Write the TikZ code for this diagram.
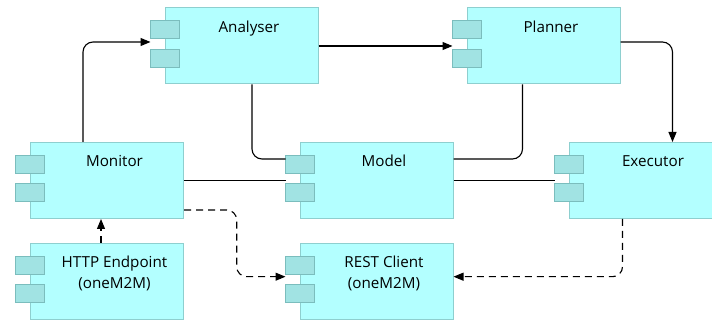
\documentclass[tikz,border=0pt]{standalone}
\usepackage{fontspec}
\setmainfont{Open Sans}
\usetikzlibrary{arrows.meta}
\definecolor{boxfill}{HTML}{B3FFFF}
\definecolor{boxline}{HTML}{8ECFCF}
\definecolor{portfill}{HTML}{A1E3E3}
\definecolor{portline}{HTML}{7BBDBD}
\tikzset{
	compbox/.style={draw=boxline,fill=boxfill,line width=1pt,minimum width=153pt,minimum height=76pt,inner sep=0pt},
	comptext/.style={anchor=base,font=\fontsize{15.2}{21}\selectfont,inner sep=0pt},
	port/.style={draw=portline,fill=portfill,line width=1pt,minimum width=29pt,minimum height=18pt,inner sep=0pt},
	conn/.style={line width=1.1pt,rounded corners=10pt},
	tip/.style={-{Triangle[length=10pt,width=8pt]}},
	dashconn/.style={conn,dash pattern=on 7pt off 5pt}
}
% component: name, position, label
\newcommand{\comp}[3]{%
	\node[compbox] (#1) at #2 {};
	\node[comptext] (#1-text) at ([xshift=7.5pt,yshift=-25pt]#1.north) {\begin{tabular}[t]{@{}c@{}}#3\end{tabular}};
	\node[port] (#1-p1) at ([yshift=-22.5pt]#1.north west) {};
	\node[port] (#1-p2) at ([yshift=-51pt]#1.north west) {};
}
\begin{document}
\begin{tikzpicture}[x=1pt,y=-1pt]
	\useasboundingbox (0,0) rectangle (712,320);
	\clip (0,0) rectangle (712,320);
	\comp{analyser}{(241.5,46)}{Analyser}
	\comp{planner}{(543.5,46)}{Planner}
	\comp{monitor}{(107,180.5)}{Monitor}
	\comp{model}{(376.5,180.5)}{Model}
	\comp{executor}{(645.5,180.5)}{Executor}
	\comp{http}{(107,281.3)}{HTTP Endpoint\\(oneM2M)}
	\comp{rest}{(376.5,281.3)}{REST Client\\(oneM2M)}
	% MAPE loop
	\draw[conn,tip] ([xshift=-24pt]monitor.north) |- ([xshift=-14pt,yshift=4pt]analyser.west);
	\draw[conn,tip] (analyser.east) -- ([xshift=-14pt]planner.west);
	\draw[conn,tip] ([yshift=4pt]planner.east) -| ([xshift=27pt]executor.north);
	% shared model
	\draw[conn] ([xshift=10.5pt]analyser.south) |- ([xshift=-14pt,yshift=21.5pt]model.west);
	\draw[conn] ([xshift=-21pt]planner.south) |- ([yshift=21.5pt]model.east);
	\draw[conn] (monitor.east) -- ([xshift=-14pt]model.west);
	\draw[conn] (model.east) -- ([xshift=-14pt]executor.west);
	% oneM2M
	\draw[dashconn,tip] ([xshift=-6pt]http.north) -- ([xshift=-6pt]monitor.south);
	\draw[dashconn,tip] ([yshift=-29.5pt]monitor.east) -- ++(52.7,0) |- ([xshift=-14pt,yshift=4.6pt]rest.west);
	\draw[dashconn,tip] ([xshift=-23pt]executor.south) |- ([yshift=4.6pt]rest.east);
\end{tikzpicture}
\end{document}
